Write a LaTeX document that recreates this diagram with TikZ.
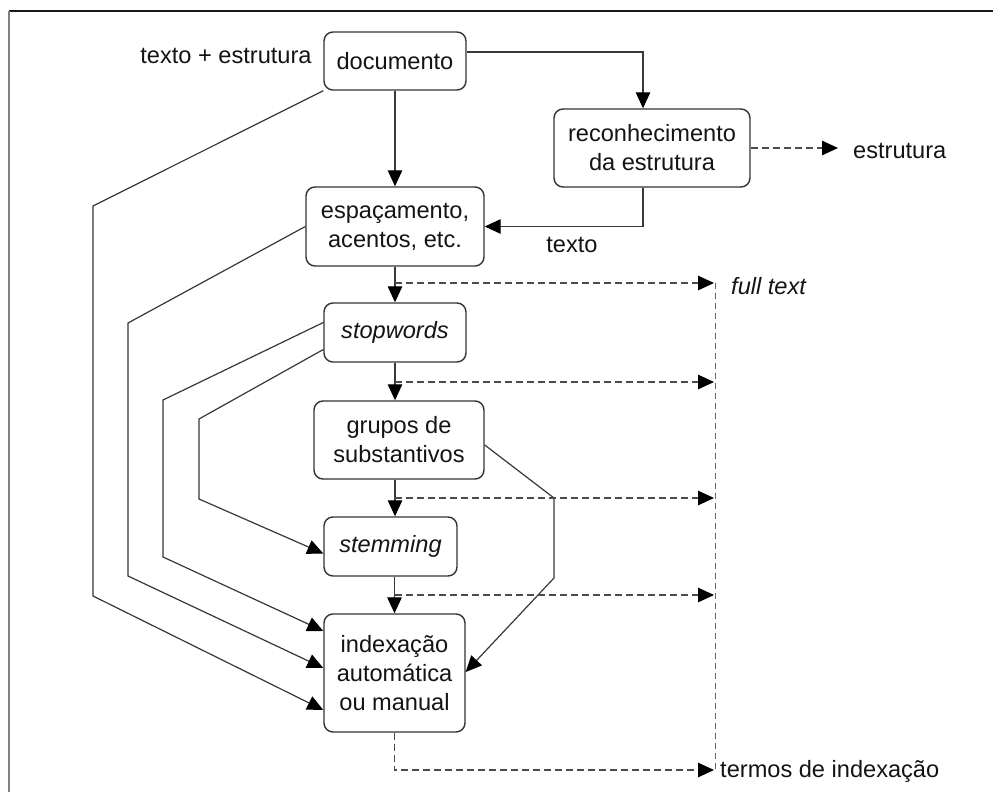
\documentclass[tikz,border=0pt]{standalone}
\usepackage{fontspec}
\setmainfont{Liberation Sans}
\usetikzlibrary{arrows.meta,calc}

\tikzset{
  every picture/.style={x=1pt,y=-1pt},
  txt/.style={font=\fontsize{23.6}{29}\selectfont, text=black!92},
  stepbox/.style={txt, draw=black!80, line width=1.4pt, rounded corners=9pt,
    align=center, inner sep=0pt},
  lbl/.style={txt, inner sep=0pt},
  tip/.style={-{Triangle[length=16pt,width=14.5pt,color=black]}},
  flow/.style={draw=black!78, line width=1.2pt},
  tap/.style={draw=black!70, line width=1.2pt, dash pattern=on 7pt off 4pt},
  bus/.style={draw=black!60, line width=0.9pt, dash pattern=on 6pt off 4pt},
}

\begin{document}
\begin{tikzpicture}
\useasboundingbox (0,0) rectangle (993,792);
\fill[white] (0,0) rectangle (993,792);

% outer frame (open at the right and bottom edges)
\draw[black!90, line width=1.4pt] (9,11) -- (993,11);
\draw[black!50, line width=2pt] (9,11) -- (9,792);

% process boxes
\node[stepbox, minimum width=142pt, minimum height=58pt] (doc) at (395,61) {documento};
\node[stepbox, minimum width=196pt, minimum height=78pt] (rec) at (652,148) {reconhecimento\\da estrutura};
\node[stepbox, minimum width=178pt, minimum height=79pt] (esp) at (395,226.5) {espaçamento,\\acentos, etc.};
\node[stepbox, minimum width=142pt, minimum height=59pt] (stop) at (395,332.5) {\itshape stopwords};
\node[stepbox, minimum width=170pt, minimum height=78pt] (grp) at (399,440) {grupos de\\substantivos};
\node[stepbox, minimum width=133pt, minimum height=59pt] (stem) at (390.5,546.5) {\itshape stemming};
\node[stepbox, minimum width=141pt, minimum height=118pt] (idx) at (394.5,673) {indexação\\automática\\ou manual};

% free labels
\node[lbl] (te) at (226,56) {texto + estrutura};
\node[lbl, anchor=west] (estr) at (853,151) {estrutura};
\node[lbl] (txt) at (572,245) {texto};
\node[lbl, anchor=west] (full) at (731,286) {\itshape full text};
\node[lbl, anchor=west] (termos) at (720,771) {termos de indexação};

% ends of the output arrows
\coordinate (estrTip) at (838,148);
\coordinate (b1) at (714,283);
\coordinate (b2) at (714,382);
\coordinate (b3) at (714,498);
\coordinate (b4) at (714,595);
\coordinate (b5) at (714,770);

% main vertical flow
\draw[flow, tip] (doc.south) -- (esp.north);
\draw[flow, tip] (esp.south) -- (stop.north);
\draw[flow, tip] (stop.south) -- (stop.south |- grp.north);
\draw[flow, tip] (grp.south -| stop.south) -- (stem.north -| stop.south);
\draw[flow, tip] (stem.south -| idx.north) -- (idx.north);

% structure recognition branch
\draw[flow, tip] ([yshift=9pt]doc.east) -| ([xshift=-9pt]rec.north);
\draw[flow, tip] ([xshift=-9pt]rec.south) |- (esp.east);
\draw[tap, tip] (rec.east) -- (estrTip);

% bypass connectors on the left
\draw[flow, tip] (doc.south west) -- (93,206) -- (93,596) -- ([yshift=-37pt]idx.west);
\draw[flow, tip] (esp.west) -- (128,323) -- (128,576) -- ([yshift=5pt]idx.west);
\draw[flow, tip] ([yshift=10pt]stop.west) -- (163,400) -- (163,557) -- ([yshift=42pt]idx.west);
\draw[flow, tip] ([yshift=-17pt]stop.west) -- (199,419) -- (199,499) -- ([yshift=-7pt]stem.west);
% bypass on the right
\draw[flow, tip] ([yshift=-5pt]grp.east) -- (554,498) -- (554,578) -- ([yshift=1pt]idx.east);

% index term outputs
\draw[bus] (715,283) -- (715,770);
\draw[tap, tip] (esp.south |- b1) -- (b1);
\draw[tap, tip] (stop.south |- b2) -- (b2);
\draw[tap, tip] (stop.south |- b3) -- (b3);
\draw[tap, tip] (stop.south |- b4) -- (b4);
\draw[tap, tip] (idx.south) |- (b5);
\end{tikzpicture}
\end{document}
